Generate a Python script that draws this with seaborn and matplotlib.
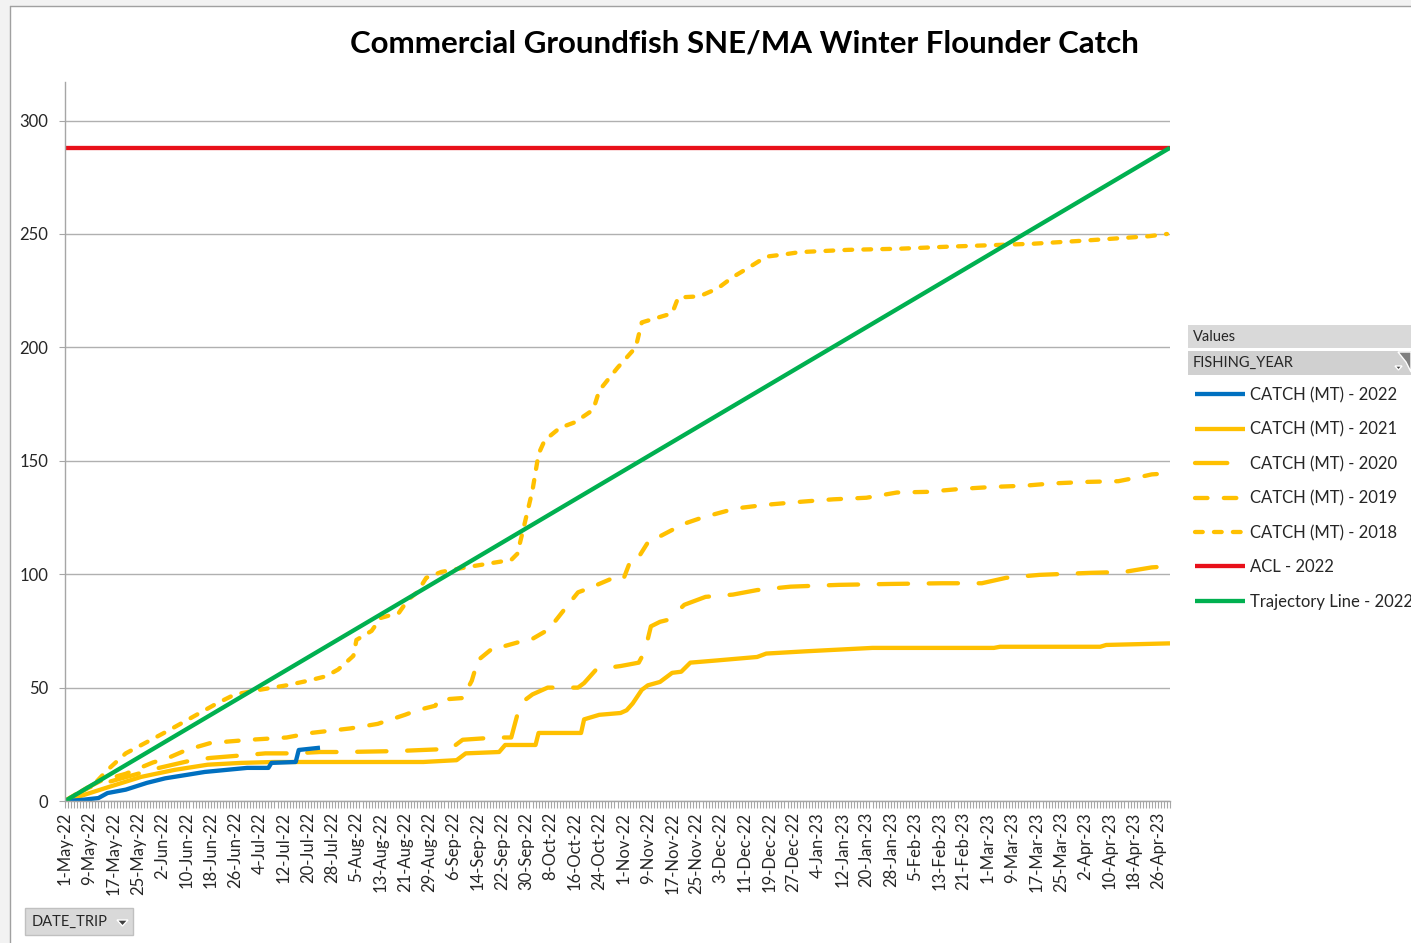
import matplotlib
matplotlib.use("Agg")
import matplotlib.pyplot as plt
import matplotlib.dates as mdates
from matplotlib.patches import Rectangle, Polygon
import pandas as pd
import seaborn as sns

# fishing year starts 1-May-22; x values are day offsets from that date
start = pd.Timestamp("2022-05-01")

# cumulative catch (MT)
days_2022 = [0, 5, 11, 14, 20, 27, 33, 40, 46, 53, 60, 67, 68, 76, 77, 84]
catch_2022 = [0, 0.4, 1.3, 3.5, 5, 8, 10, 11.5, 12.8, 13.7, 14.6, 14.6, 16.8, 17.2, 22.5, 23.5]

days_2021 = [0, 7, 14, 25, 36, 47, 58, 69, 97, 118, 129, 132, 143, 145, 155, 156, 170, 171,
             176, 183, 185, 187, 190, 192, 196, 200, 203, 206, 215, 228, 231, 244, 266, 306,
             308, 341, 343, 358, 364]
catch_2021 = [0, 3, 6, 10.6, 13.7, 16, 16.8, 17.2, 17.2, 17.2, 18, 21, 21.6, 24.7, 24.7, 30, 30, 36,
              38, 38.8, 40, 43, 49, 51, 52.5, 56.5, 57, 61, 62, 63.5, 65, 66, 67.5, 67.5,
              68, 68, 68.8, 69.3, 69.5]

days_2020 = [0, 8, 16, 24, 31, 42, 48, 60, 66, 75, 84, 92, 109, 127, 131, 142, 147, 150, 154,
             159, 164, 169, 171, 175, 178, 183, 189, 191, 193, 196, 199, 204, 211, 220, 228,
             239, 255, 272, 289, 302, 310, 321, 338, 349, 358, 364]
catch_2020 = [0, 6, 9, 12, 14.6, 18, 19, 20.3, 21, 21, 21.6, 21.6, 22, 23, 27, 28, 28, 43, 47,
              50, 50, 50, 52, 58, 58.6, 59.5, 61, 66, 77, 79, 80, 86.5, 90, 91, 93,
              94.5, 95.3, 95.7, 96, 96, 98.4, 99.7, 100.6, 101, 103, 103.5]

days_2019 = [0, 6, 12, 20, 29, 34, 40, 48, 61, 73, 81, 94, 103, 112, 116, 122, 123, 131, 132,
             134, 136, 141, 144, 152, 154, 159, 161, 166, 169, 173, 180, 184, 186, 189, 192,
             195, 200, 203, 210, 221, 231, 243, 253, 264, 274, 284, 295, 306, 316, 325, 337,
             347, 356, 358, 364]
catch_2019 = [0, 5, 9, 12, 17, 19, 22.5, 25.6, 27, 28, 30, 32, 34, 38, 40, 42, 44.6, 45.4, 48,
              53, 62, 67.5, 68, 71, 71.5, 75.4, 78.5, 87, 92, 94, 98, 98, 105, 107.6, 114,
              116, 119.5, 121.8, 125, 129, 130.6, 132, 133, 133.7, 136, 136.3, 137.6, 138.5, 139, 140, 140.7,
              141, 143.4, 144, 144.5]

days_2018 = [0, 5, 10, 14, 20, 27, 34, 42, 50, 56, 64, 73, 80, 86, 90, 95, 96, 101, 104, 110,
             113, 116, 119, 124, 132, 141, 147, 149, 151, 154, 156, 158, 163, 168, 174, 176,
             182, 188, 190, 200, 202, 209, 215, 220, 225, 231, 237, 242, 258, 275, 291, 319,
             335, 346, 357, 363]
catch_2018 = [0, 4, 8, 13.7, 21, 26, 31, 37, 43, 47, 49, 51, 53, 55, 58, 64, 71, 75, 80.7, 83,
              88.7, 92, 98.4, 101, 103, 105, 106.3, 109, 120, 137, 153, 159, 164.5, 167, 172.5, 181,
              191, 200, 211, 215, 222, 222.5, 226, 231, 235, 240, 241, 242, 243, 243.5, 244.4, 245.7,
              247, 248, 249, 250]

acl_days = [0, 364]
acl_2022 = [288, 288]
traj_days = [0, 364]
traj_2022 = [0, 288]

series = [
    ("CATCH (MT) - 2018", days_2018, catch_2018),
    ("CATCH (MT) - 2019", days_2019, catch_2019),
    ("CATCH (MT) - 2020", days_2020, catch_2020),
    ("CATCH (MT) - 2021", days_2021, catch_2021),
    ("CATCH (MT) - 2022", days_2022, catch_2022),
    ("ACL - 2022", acl_days, acl_2022),
    ("Trajectory Line - 2022", traj_days, traj_2022),
]
frames = []
for name, d, v in series:
    frames.append(pd.DataFrame({
        "DATE_TRIP": start + pd.to_timedelta(d, unit="D"),
        "value": v,
        "series": name,
    }))
df = pd.concat(frames, ignore_index=True)

yellow = "#FFC000"
styles = {
    "CATCH (MT) - 2018": dict(color=yellow, ls=(0, (1.8, 2.6))),
    "CATCH (MT) - 2019": dict(color=yellow, ls=(0, (2.9, 3.8))),
    "CATCH (MT) - 2020": dict(color=yellow, ls=(0, (6.8, 4.8))),
    "CATCH (MT) - 2021": dict(color=yellow, ls="-"),
    "CATCH (MT) - 2022": dict(color="#0070C0", ls="-"),
    "ACL - 2022": dict(color="#E8101A", ls="-"),
    "Trajectory Line - 2022": dict(color="#00B050", ls="-"),
}

sns.set_style("white")
plt.rcParams["font.family"] = ["Lato", "DejaVu Sans"]

W, H = 1411, 943
fig = plt.figure(figsize=(W / 100, H / 100), dpi=100)


def fx(px):
    return px / W


def fy(py):
    return 1 - py / H


ax = fig.add_axes([fx(65), fy(801), fx(1170) - fx(65), fy(82) - fy(801)])

for name, _, _ in series:
    st = styles[name]
    sns.lineplot(
        data=df[df["series"] == name], x="DATE_TRIP", y="value", ax=ax,
        color=st["color"], linestyle=st["ls"], linewidth=3.1,
        dash_capstyle="round", solid_capstyle="butt", label=name,
    )

ax.set_xlim(start, start + pd.Timedelta(days=364))
ax.set_ylim(0, 317)
ax.set_yticks(range(0, 301, 50))
ax.set_xlabel("")
ax.set_ylabel("")
ax.grid(axis="y", color="#b0b0b0", linewidth=1.0)
ax.set_axisbelow(True)

tick_dates = pd.date_range(start, start + pd.Timedelta(days=364), freq="8D")
ax.set_xticks(tick_dates)
ax.set_xticklabels([f"{d.day}-{d.strftime('%b-%y')}" for d in tick_dates],
                   rotation=90, fontsize=12, color="#262626")
ax.xaxis.set_minor_locator(mdates.DayLocator())
ax.tick_params(axis="x", which="both", direction="out", length=5, width=0.8,
               color="#a6a6a6", pad=3, bottom=True)
ax.tick_params(axis="y", direction="out", length=4, width=0.8, color="#a6a6a6",
               pad=8, labelsize=12, labelcolor="#262626", left=True)

for s in ["top", "right"]:
    ax.spines[s].set_visible(False)
for s in ["left", "bottom"]:
    ax.spines[s].set_color("#a6a6a6")
    ax.spines[s].set_linewidth(1.0)

legend = ax.get_legend()
if legend is not None:
    legend.remove()

handles, labels = ax.get_legend_handles_labels()
order = ["CATCH (MT) - 2022", "CATCH (MT) - 2021", "CATCH (MT) - 2020",
         "CATCH (MT) - 2019", "CATCH (MT) - 2018", "ACL - 2022", "Trajectory Line - 2022"]
hmap = dict(zip(labels, handles))
leg = fig.legend([hmap[k] for k in order], order, loc="upper left",
                 bbox_to_anchor=(fx(1195), fy(387)), frameon=False, fontsize=12,
                 handlelength=3.0, handletextpad=0.3, labelspacing=1.1, borderpad=0,
                 borderaxespad=0, labelcolor="#262626")
# the long-dash sample shows a single dash in the original legend
leg.get_lines()[2].set_linestyle((0, (7.5, 6.0)))

# title
fig.text(fx(744), fy(44), "Commercial Groundfish SNE/MA Winter Flounder Catch",
         ha="center", va="center", fontsize=22.5, fontweight="bold", color="black")

# pivot field buttons
fig.patches.append(Rectangle((fx(1188), fy(348)), fx(1411) - fx(1188), fy(325) - fy(348),
                             transform=fig.transFigure, facecolor="#d9d9d9", edgecolor="none"))
fig.patches.append(Rectangle((fx(1188), fy(375)), fx(1411) - fx(1188), fy(351) - fy(375),
                             transform=fig.transFigure, facecolor="#d0d0d0", edgecolor="none"))
fig.text(fx(1193), fy(337), "Values", ha="left", va="center", fontsize=10.5, color="#262626")
fig.text(fx(1193), fy(363), "FISHING_YEAR", ha="left", va="center", fontsize=10.5, color="#262626")
fig.patches.append(Polygon([(fx(1395), fy(366)), (fx(1402), fy(366)), (fx(1398.5), fy(370))],
                           closed=True, transform=fig.transFigure, facecolor="#404040"))
fig.patches.append(Polygon([(fx(1398), fy(352)), (fx(1411), fy(352)), (fx(1411), fy(372)),
                            (fx(1406), fy(362))],
                           closed=True, transform=fig.transFigure, facecolor="#808080"))

fig.patches.append(Rectangle((fx(25), fy(935)), fx(133) - fx(25), fy(908) - fy(935),
                             transform=fig.transFigure, facecolor="#d9d9d9", edgecolor="#c0c0c0"))
fig.text(fx(32), fy(922), "DATE_TRIP", ha="left", va="center", fontsize=10.5, color="#262626")
fig.patches.append(Polygon([(fx(117), fy(920)), (fx(128), fy(920)), (fx(122.5), fy(926))],
                           closed=True, transform=fig.transFigure, facecolor="#404040"))

# chart area border
fig.patches.append(Rectangle((0, fy(6)), 1, 1 - fy(6), transform=fig.transFigure,
                             facecolor="#f2f2f2", edgecolor="none"))
fig.patches.append(Rectangle((0, 0), fx(10), 1, transform=fig.transFigure,
                             facecolor="#f2f2f2", edgecolor="none"))
fig.lines.append(plt.Line2D([fx(10), 1], [fy(6), fy(6)], transform=fig.transFigure,
                            color="#a0a0a0", linewidth=1))
fig.lines.append(plt.Line2D([fx(10), fx(10)], [0, fy(6)], transform=fig.transFigure,
                            color="#a0a0a0", linewidth=1))

fig.savefig("out.png", dpi=100)
